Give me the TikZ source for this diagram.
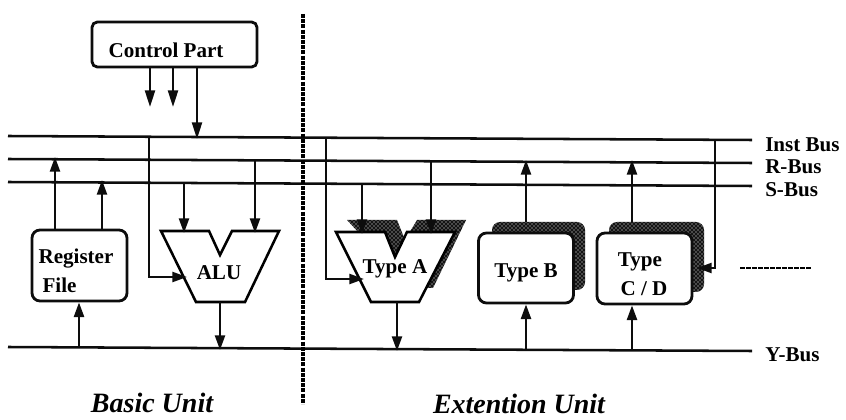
\documentclass[tikz,border=0pt]{standalone}
\usepackage{fontspec}
\setmainfont{Liberation Serif}
\usetikzlibrary{arrows.meta,patterns}
\tikzset{
  wire/.style={line width=1.8pt,line cap=butt,draw=black!95},
  arr/.style={wire,-{Triangle[length=12.5pt,width=7.5pt]}},
  arrs/.style={wire,-{Triangle[length=11pt,width=7.5pt]}},
  busline/.style={line width=1.9pt,draw=black!95},
  unitbox/.style={draw=black!95,line width=2.1pt,fill=white,rounded corners=6pt},
  shadowfill/.style={fill=black!92,postaction={pattern=crosshatch dots,pattern color=white}},
  lbl/.style={font=\fontsize{15.8pt}{19pt}\selectfont\bfseries,inner sep=0pt},
  buslbl/.style={lbl,anchor=west},
  unitlbl/.style={font=\fontsize{21pt}{25pt}\selectfont\bfseries\itshape,inner sep=0pt}
}
\begin{document}
\begin{tikzpicture}[x=0.75pt,y=-0.75pt]
\useasboundingbox (0,0) rectangle (846,420);
% buses
\coordinate (instL) at (8,136); \coordinate (instR) at (752,140);
\coordinate (rL) at (8,159); \coordinate (rR) at (752,163);
\coordinate (sL) at (8,182); \coordinate (sR) at (752,186);
\coordinate (yL) at (8,347); \coordinate (yR) at (752,351);
\draw[busline] (instL) -- (instR);
\draw[busline] (rL) -- (rR);
\draw[busline] (sL) -- (sR);
\draw[busline] (yL) -- (yR);
\node[buslbl] (linst) at (765,145) {Inst Bus};
\node[buslbl] (lr) at (765,167) {R-Bus};
\node[buslbl] (ls) at (765,190) {S-Bus};
\node[buslbl] (ly) at (765,355) {Y-Bus};
% divider
\coordinate (divT) at (303,14); \coordinate (divB) at (303,404);
\draw[line width=3pt,dash pattern=on 3pt off 0.9pt] (divT) -- (divB);
% control
\node[unitbox,minimum width=123.75pt,minimum height=33.75pt,lbl,rounded corners=4pt] (ctrl) at (174.5,44.5) {};
\node[lbl] (ctrlt) at (166,50) {Control Part};
\coordinate (c1) at (150,107); \coordinate (c2) at (173,107); \coordinate (c3) at (197,139);
\draw[arr] (ctrl.south -| c1) -- (c1);
\draw[arr] (ctrl.south -| c2) -- (c2);
\draw[arr] (ctrl.south -| c3) -- (c3);
% register file
\node[unitbox,minimum width=71.25pt,minimum height=53.25pt] (reg) at (79.5,265.5) {};
\node[lbl,align=left] (regt) at (76,271) {Register\\[3pt]\hspace{3pt}File};
\coordinate (ra) at (55,157); \coordinate (rb) at (102,180); \coordinate (ry) at (79,347.4);
\draw[arrs] (reg.north -| ra) -- (ra);
\draw[arrs] (reg.north -| rb) -- (rb);
\draw[arrs] (ry) -- (reg.south -| ry);
% ALU
\coordinate (a1) at (161,231); \coordinate (a2) at (209,231); \coordinate (a3) at (220,255);
\coordinate (a4) at (232,231); \coordinate (a5) at (279,231); \coordinate (a6) at (245,302); \coordinate (a7) at (196,302);
\draw[line width=1.9pt,fill=white] (a1)--(a2)--(a3)--(a4)--(a5)--(a6)--(a7)--cycle;
\node[lbl] (alu) at (219,273) {ALU};
\coordinate (aInst) at (149,136.8); \coordinate (aIn) at (187,277);
\coordinate (aS) at (184,183); \coordinate (aSe) at (184,233);
\coordinate (aR) at (255,160.3); \coordinate (aRe) at (255,233);
\coordinate (aO) at (220,302); \coordinate (aY) at (220,350);
\draw[arrs] (aInst) |- (aIn);
\draw[arrs] (aS) -- (aSe);
\draw[arrs] (aR) -- (aRe);
\draw[arrs] (aO) -- (aY);
% Type A
\path[shadowfill] (347,220)--(397,220)--(405,240)--(417,220)--(466,220)--(433,288)--(410,288)--cycle;
\coordinate (t1) at (336,232); \coordinate (t2) at (385,232); \coordinate (t3) at (395,257);
\coordinate (t4) at (407,232); \coordinate (t5) at (455,232); \coordinate (t6) at (419,302); \coordinate (t7) at (371,302);
\draw[line width=1.9pt,fill=white] (t1)--(t2)--(t3)--(t4)--(t5)--(t6)--(t7)--cycle;
\node[lbl] (typea) at (395,269) {Type A};
\coordinate (tInst) at (326,137.7); \coordinate (tIn) at (364,279);
\coordinate (tS) at (362,184); \coordinate (tSe) at (362,234);
\coordinate (tR) at (431,161.3); \coordinate (tRe) at (431,234);
\coordinate (tO) at (397,302); \coordinate (tY) at (397,351);
\draw[arrs] (tInst) |- (tIn);
\draw[arrs] (tS) -- (tSe);
\draw[arrs] (tR) -- (tRe);
\draw[arrs] (tO) -- (tY);
% Type B
\path[shadowfill,rounded corners=6pt] (492,222) rectangle (585,290);
\node[unitbox,minimum width=71.25pt,minimum height=52.5pt] (tb) at (526,268) {};
\node[lbl] (tbt) at (526,273) {Type B};
\coordinate (bR) at (526,160); \coordinate (bT) at (526,222); \coordinate (bY) at (526,349.8);
\draw[arrs] (bT) -- (bR);
\draw[arrs] (bY) -- (tb.south -| bY);
% Type C/D
\path[shadowfill,rounded corners=6pt] (609,222) rectangle (704,292);
\node[unitbox,minimum width=71.25pt,minimum height=53.25pt] (tc) at (644.5,268.5) {};
\node[lbl,align=center] (tct) at (640,274) {Type\\[3pt]\hspace{6pt}C / D};
\coordinate (cR) at (632,160); \coordinate (cT) at (632,222); \coordinate (cY) at (632,350.4);
\coordinate (cI) at (715,139.8); \coordinate (cIn) at (697,268);
\draw[arrs] (cT) -- (cR);
\draw[arrs] (cY) -- (tc.south -| cY);
\draw[arrs] (cI) |- (cIn);
% dashes
\coordinate (dL) at (740,268); \coordinate (dR) at (811,268);
\draw[line width=1.9pt,dash pattern=on 3.5pt off 1pt] (dL) -- (dR);
% unit labels
\node[unitlbl] (basic) at (152,403) {Basic Unit};
\node[unitlbl] (ext) at (519,404) {Extention Unit};
\end{tikzpicture}
\end{document}
